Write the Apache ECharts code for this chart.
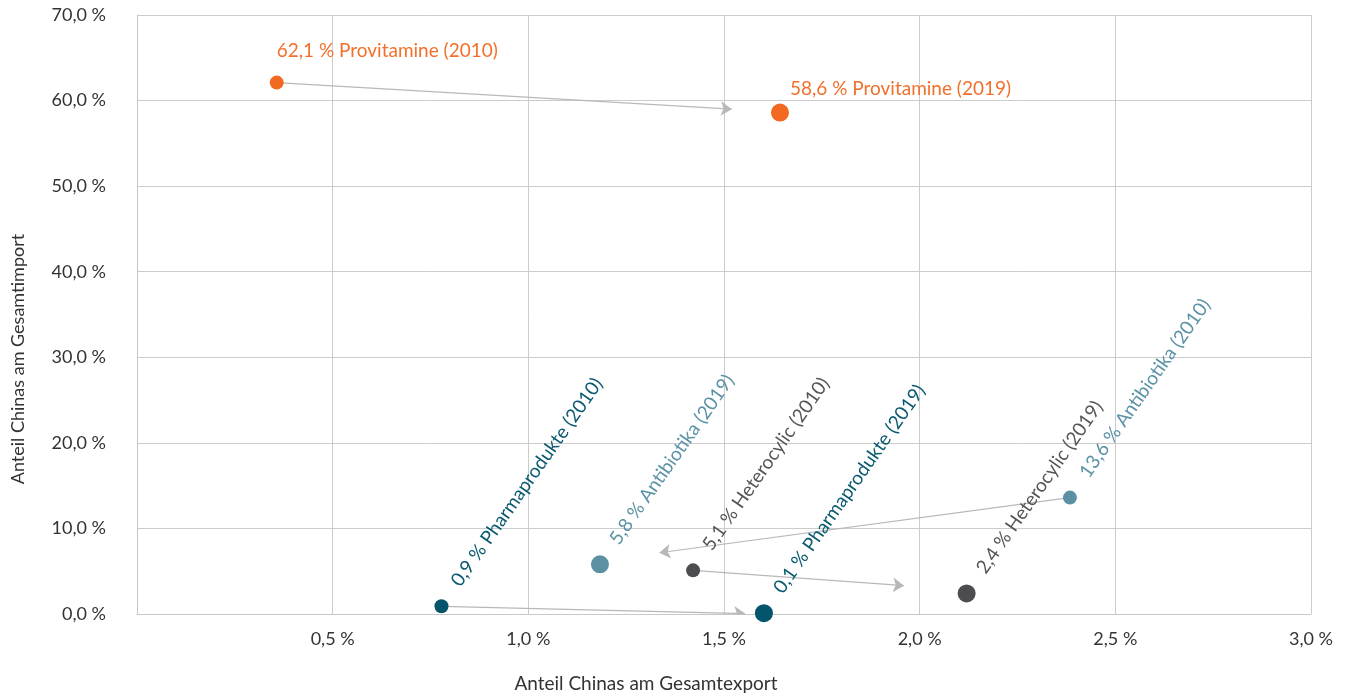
<!DOCTYPE html>
<html>
<head>
<meta charset="utf-8">
<script src="https://cdn.jsdelivr.net/npm/echarts@6/dist/echarts.min.js"></script>
<style>
  html, body { margin: 0; padding: 0; background: #ffffff; }
  #chart { width: 1350px; height: 696px; }
</style>
</head>
<body>
<div id="chart"></div>
<script>
// Product groups and their shares (China's share of total export / total import, in %)
const products = ['Provitamine', 'Pharmaprodukte', 'Antibiotika', 'Heterocylic'];
const years = ['2010', '2019'];
const export2010 = [0.357, 0.778, 2.384, 1.421];
const import2010 = [62.1, 0.9, 13.6, 5.1];
const export2019 = [1.643, 1.602, 1.183, 2.120];
const import2019 = [58.6, 0.1, 5.8, 2.4];
// Where each trend arrow stops (export %, import %)
const arrowEndExport = [1.520, 1.554, 1.335, 1.960];
const arrowEndImport = [59.0, 0.05, 7.16, 3.31];

const xTicks = { min: 0, max: 3, interval: 0.5 };
const yTicks = { min: 0, max: 70, interval: 10 };
const xAxisTitle = 'Anteil Chinas am Gesamtexport';
const yAxisTitle = 'Anteil Chinas am Gesamtimport';

const FONT = 'Lato';
const WEIGHT = 400;
const colors = ['#f26a22', '#04546b', '#5b91a3', '#4d4d4f'];
const labelColors = ['#f2702a', '#0a5a70', '#5b92a5', '#555557'];
const sizes = [14, 18];

const fmtPct = v => v.toFixed(1).replace('.', ',') + ' %';

// label placement per product: horizontal for Provitamine, slanted for the others
function labelFor(p, yi, size) {
  const c = size / 2;
  if (p === 0) {
    const off = yi === 0 ? [0, -32] : [10, -24];
    return { position: [c + off[0], c + off[1]], rotate: 0 };
  }
  return { position: [c + 14, c - 22], rotate: 55 };
}

const scatterSeries = products.map((name, p) => {
  const pts = [[export2010[p], import2010[p]], [export2019[p], import2019[p]]];
  return {
    type: 'scatter',
    name: name,
    z: 3,
    data: pts.map((pt, yi) => {
      const lp = labelFor(p, yi, sizes[yi]);
      return {
        value: pt,
        symbolSize: sizes[yi],
        label: {
          show: true,
          position: lp.position,
          rotate: lp.rotate,
          align: 'left',
          verticalAlign: 'middle',
          color: labelColors[p],
          fontFamily: FONT,
          fontWeight: WEIGHT,
          fontSize: 19,
          formatter: fmtPct(pt[1]) + ' ' + name + ' (' + years[yi] + ')'
        }
      };
    }),
    itemStyle: { color: colors[p], opacity: 1 },
    emphasis: { disabled: true }
  };
});

const arrowSeries = {
  type: 'lines',
  coordinateSystem: 'cartesian2d',
  z: 2,
  symbol: ['none', 'arrow'],
  symbolSize: 11,
  lineStyle: { color: '#b8b8b8', width: 1.2, opacity: 1, curveness: 0 },
  silent: true,
  data: products.map((name, p) => ({
    coords: [[export2010[p], import2010[p]], [arrowEndExport[p], arrowEndImport[p]]]
  }))
};

const chart = echarts.init(document.getElementById('chart'), null, { renderer: 'canvas' });
chart.setOption({
  backgroundColor: '#ffffff',
  animation: false,
  grid: { left: 137, right: 39, top: 15, bottom: 82, containLabel: false, outerBoundsMode: 'none' },
  xAxis: {
    type: 'value',
    min: xTicks.min, max: xTicks.max, interval: xTicks.interval,
    name: xAxisTitle,
    nameLocation: 'middle',
    nameGap: 60,
    nameTextStyle: { fontFamily: FONT, fontWeight: WEIGHT, fontSize: 19, color: '#333333', padding: [0, 156, 0, 0] },
    axisLine: { show: true, lineStyle: { color: '#c8c8c8', width: 1 } },
    axisTick: { show: false },
    splitLine: { show: true, lineStyle: { color: '#cccccc', width: 1 } },
    axisLabel: {
      showMinLabel: false,
      margin: 16,
      fontFamily: FONT, fontWeight: WEIGHT, fontSize: 18, color: '#333333',
      formatter: v => fmtPct(v)
    }
  },
  yAxis: {
    type: 'value',
    min: yTicks.min, max: yTicks.max, interval: yTicks.interval,
    name: yAxisTitle,
    nameLocation: 'middle',
    nameRotate: 90,
    nameGap: 110,
    nameTextStyle: { fontFamily: FONT, fontWeight: WEIGHT, fontSize: 18, color: '#333333', padding: [0, 89, 0, 0] },
    axisLine: { show: true, lineStyle: { color: '#c8c8c8', width: 1 } },
    axisTick: { show: false },
    splitLine: { show: true, lineStyle: { color: '#cccccc', width: 1 } },
    axisLabel: {
      margin: 31,
      fontFamily: FONT, fontWeight: WEIGHT, fontSize: 18, color: '#333333',
      formatter: v => fmtPct(v)
    }
  },
  series: [arrowSeries].concat(scatterSeries)
});
</script>
</body>
</html>
